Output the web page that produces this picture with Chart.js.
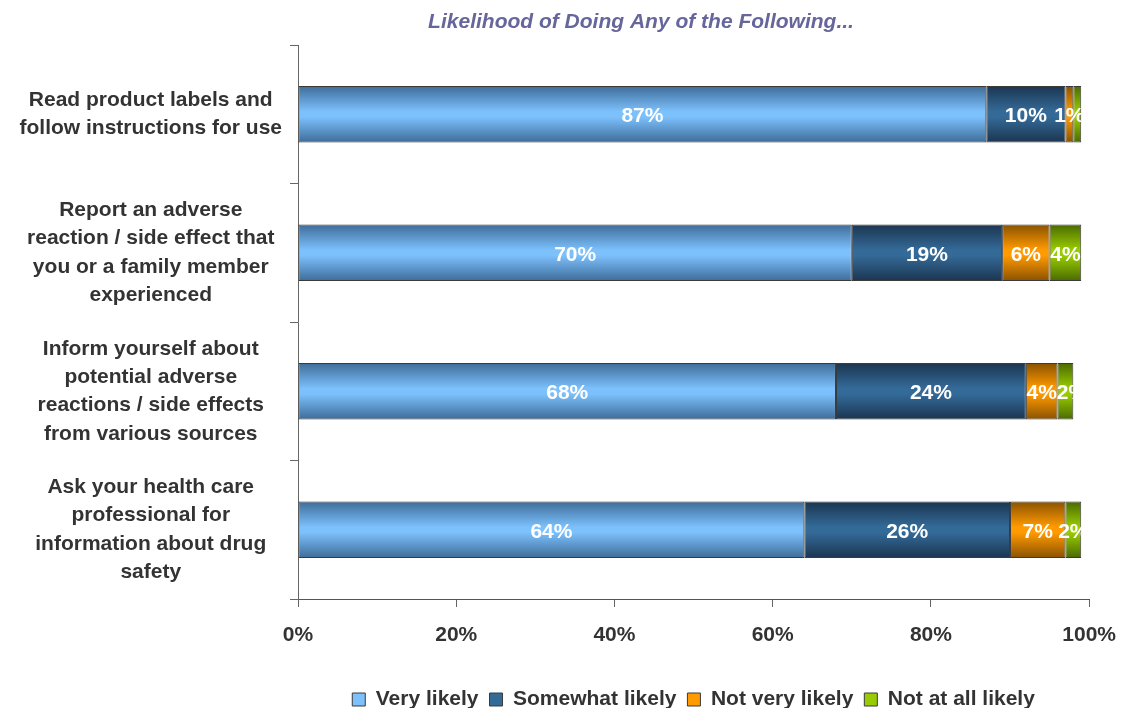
<!DOCTYPE html>
<html>
<head>
  <meta charset="UTF-8">
  <title>Likelihood of Doing Any of the Following</title>
  <script src="https://cdn.jsdelivr.net/npm/chart.js"></script>
  <style>
    body {
      margin: 0;
      padding: 0;
      background-color: white;
    }
    #wrap {
      width: 1132px;
      height: 708px;
    }
  </style>
</head>
<body>
  <div id="wrap"><canvas id="grafica"></canvas></div>

  <script type="text/javascript">
    const titulo = 'Likelihood of Doing Any of the Following...';

    const categorias = [
      ['Read product labels and', 'follow instructions for use'],
      ['Report an adverse', 'reaction / side effect that', 'you or a family member', 'experienced'],
      ['Inform yourself about', 'potential adverse', 'reactions / side effects', 'from various sources'],
      ['Ask your health care', 'professional for', 'information about drug', 'safety']
    ];

    const series = ['Very likely', 'Somewhat likely', 'Not very likely', 'Not at all likely'];

    const muyProbable = [87, 70, 68, 64];
    const algoProbable = [10, 19, 24, 26];
    const pocoProbable = [1, 6, 4, 7];
    const nadaProbable = [1, 4, 2, 2];

    const ticksX = [0, 20, 40, 60, 80, 100];

    // color claro (centro) y oscuro (bordes) de cada serie
    const colores = [
      { claro: '#7cc0fc', oscuro: '#3e6c98' },
      { claro: '#346a98', oscuro: '#1b3550' },
      { claro: '#ff9a00', oscuro: '#8a5200' },
      { claro: '#99cc00', oscuro: '#4a6a00' }
    ];

    const fuente = 'Arial, "Liberation Sans", sans-serif';
    const CAT_PCT = 0.8;
    const BAR_PCT = 0.51;

    // degradado vertical, calculado para cada barra
    function degradado(context, i) {
      const chart = context.chart;
      const y = chart.scales.y;
      if (!y || context.dataIndex === undefined || !chart.chartArea) {
        return colores[i].claro;
      }
      const centro = y.getPixelForValue(context.dataIndex);
      const banda = Math.abs(y.getPixelForValue(1) - y.getPixelForValue(0));
      const alto = banda * CAT_PCT * BAR_PCT;
      const top = centro - alto / 2;
      const g = chart.ctx.createLinearGradient(0, top, 0, top + alto);
      g.addColorStop(0, colores[i].oscuro);
      g.addColorStop(0.45, colores[i].claro);
      g.addColorStop(0.55, colores[i].claro);
      g.addColorStop(1, colores[i].oscuro);
      return g;
    }

    // etiquetas blancas: centradas, empujadas a la derecha si se solapan,
    // recortadas al final de cada barra apilada
    const etiquetas = {
      id: 'etiquetas',
      afterDatasetsDraw(chart) {
        const ctx = chart.ctx;
        const area = chart.chartArea;
        const n = chart.data.labels.length;
        const nds = chart.data.datasets.length;
        ctx.save();
        ctx.font = 'bold 21px ' + fuente;
        ctx.fillStyle = '#ffffff';
        ctx.textAlign = 'left';
        ctx.textBaseline = 'middle';
        for (let j = 0; j < n; j++) {
          const fin = chart.getDatasetMeta(nds - 1).data[j].x;
          let previo = -Infinity;
          for (let i = 0; i < nds; i++) {
            const bar = chart.getDatasetMeta(i).data[j];
            const texto = chart.data.datasets[i].data[j] + '%';
            const w = ctx.measureText(texto).width;
            const cx = (bar.x + bar.base) / 2;
            const x = Math.max(cx - w / 2, previo);
            previo = x + w;
            ctx.save();
            ctx.beginPath();
            ctx.rect(area.left, area.top, fin - area.left, area.bottom - area.top);
            ctx.clip();
            ctx.fillText(texto, x, bar.y + 2);
            ctx.restore();
          }
        }
        ctx.restore();
      }
    };

    // título desplazado como en el original
    const tituloPlugin = {
      id: 'tituloPlugin',
      afterDraw(chart) {
        const ctx = chart.ctx;
        ctx.save();
        ctx.font = 'italic bold 21px ' + fuente;
        ctx.fillStyle = '#66669c';
        ctx.textAlign = 'center';
        ctx.textBaseline = 'middle';
        ctx.fillText(titulo, 641, 22);
        ctx.restore();
      }
    };

    const valores = [muyProbable, algoProbable, pocoProbable, nadaProbable];

    const ctx = document.getElementById('grafica').getContext('2d');
    new Chart(ctx, {
      type: 'bar',
      data: {
        labels: categorias,
        datasets: series.map((nombre, i) => ({
          label: nombre,
          data: valores[i],
          backgroundColor: c => degradado(c, i),
          borderColor: '#3a3a3a',
          borderWidth: 1,
          borderSkipped: false,
          categoryPercentage: CAT_PCT,
          barPercentage: BAR_PCT
        }))
      },
      options: {
        indexAxis: 'y',
        responsive: true,
        maintainAspectRatio: false,
        animation: false,
        layout: {
          padding: { top: 45, right: 42, left: 10, bottom: -12 }
        },
        plugins: {
          legend: {
            position: 'bottom',
            fullSize: false,
            labels: {
              boxWidth: 13,
              boxHeight: 13,
              padding: 11,
              color: '#333333',
              font: { family: fuente, size: 21, weight: 'bold' },
              generateLabels(chart) {
                return chart.data.datasets.map((ds, i) => ({
                  text: ds.label,
                  fillStyle: colores[i].claro,
                  strokeStyle: '#3a3a3a',
                  lineWidth: 1,
                  fontColor: '#333333',
                  datasetIndex: i
                }));
              }
            }
          },
          title: { display: false },
          tooltip: { enabled: false }
        },
        scales: {
          x: {
            stacked: true,
            min: 0,
            max: 100,
            afterBuildTicks(axis) {
              axis.ticks = ticksX.map(v => ({ value: v }));
            },
            afterFit(axis) {
              axis.height = 79;
            },
            grid: {
              drawOnChartArea: false,
              tickLength: 8,
              color: '#666666'
            },
            border: { color: '#555555' },
            ticks: {
              padding: 16,
              color: '#333333',
              font: { family: fuente, size: 21, weight: 'bold' },
              callback: v => v + '%'
            }
          },
          y: {
            stacked: true,
            grid: {
              offset: true,
              drawOnChartArea: false,
              tickLength: 8,
              color: '#666666'
            },
            border: { color: '#666666' },
            afterFit(axis) {
              axis.width = 288;
              axis.paddingTop = 0;
              axis.paddingBottom = 0;
            },
            ticks: {
              crossAlign: 'center',
              padding: 8,
              color: '#333333',
              font: { family: fuente, size: 21, weight: 'bold', lineHeight: 1.35 }
            }
          }
        }
      },
      plugins: [etiquetas, tituloPlugin]
    });
  </script>
</body>
</html>
